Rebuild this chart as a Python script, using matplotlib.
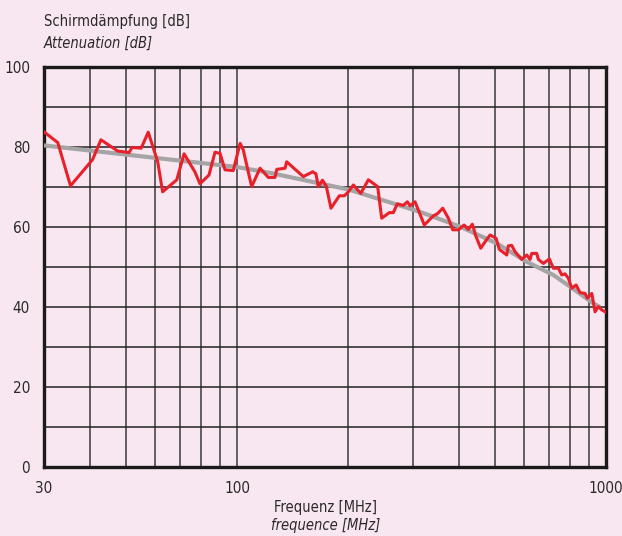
import numpy as np
import matplotlib
matplotlib.use("Agg")
import matplotlib.pyplot as plt
from matplotlib.ticker import FixedLocator, FixedFormatter, NullFormatter

# measured attenuation (red)
freq_meas = [30, 32.7, 35.4, 40.6, 42.8, 47.5, 51.0, 52.0, 55.0, 57.5,
             61.0, 62.9, 68.7, 71.9, 76.9, 79.4, 84.0, 87.2, 90.0, 92.8,
             97.7, 102, 104, 109.6, 115.5, 121.6, 126.8, 128.2, 135, 136.4,
             151.3, 160.4, 163.7, 166.1, 170.5, 174.6, 179.8, 189.4, 195.4, 200.4,
             206.7, 216.5, 227, 240.6, 246.7, 258.8, 265.3, 272, 282.4, 289.5,
             294.4, 303.7, 321.9, 340.5, 349.1, 361.1, 374.0, 384.3, 398.1, 412.5,
             423.6, 434.4, 443.6, 457.7, 470.2, 485.1, 503.5, 514, 538.3, 543.7,
             555.3, 567, 591.2, 609.9, 622.5, 629.1, 649.1, 655.6, 676.5, 702.2,
             720, 742.8, 758.6, 774.3, 790.5, 807.5, 829.5, 850.6, 877.5, 890.3,
             915, 934, 953.2, 973.6, 994]
db_meas = [83.8, 81.1, 70.3, 76.8, 81.8, 79.0, 78.6, 79.9, 79.7, 83.7,
           76.3, 68.8, 71.8, 78.3, 73.8, 70.8, 73.0, 78.7, 78.4, 74.3,
           74.1, 80.9, 79.3, 70.1, 74.7, 72.4, 72.4, 74.4, 74.7, 76.3,
           72.6, 73.8, 73.3, 70.1, 71.7, 70.2, 64.7, 67.8, 67.8, 68.8,
           70.5, 68.4, 71.8, 70.1, 62.2, 63.6, 63.6, 65.8, 65.4, 66.3,
           65.3, 66.3, 60.5, 62.8, 63.3, 64.7, 62.2, 59.3, 59.3, 60.5,
           59.4, 60.7, 57.8, 54.7, 56.3, 58.0, 57.2, 54.4, 53.0, 55.3,
           55.4, 53.8, 51.9, 53.0, 51.9, 53.4, 53.4, 51.9, 50.9, 52.0,
           49.7, 49.7, 48.0, 48.3, 47.2, 44.7, 45.5, 43.6, 43.4, 42.2,
           43.4, 38.8, 40.1, 39.3, 38.8]

# smoothed trend (grey)
freq_trend = [30, 100, 125, 202, 313, 402, 506, 610, 720, 799, 924, 963]
db_trend = [80.4, 75.0, 73.4, 69.3, 63.8, 60.1, 55.9, 51.3, 48.0, 45.1, 40.9, 40.0]

x_ticks = [30, 100, 1000]
x_minor = [40, 50, 60, 70, 80, 90, 200, 300, 400, 500, 600, 700, 800, 900]
y_ticks = [0, 20, 40, 60, 80, 100]

bg = "#f8e6f0"
txt = "#2a2a2a"
plt.rcParams["font.family"] = ["DejaVu Sans"]
plt.rcParams["font.stretch"] = "condensed"
fs = 10.5

fig = plt.figure(figsize=(6.22, 5.36), dpi=100, facecolor=bg)
ax = fig.add_axes([0.0707, 0.1287, 0.9036, 0.7463], facecolor=bg)

ax.set_xscale("log")
ax.set_xlim(30, 1000)
ax.set_ylim(0, 100)

ax.plot(freq_trend, db_trend, color="#a5a5a5", lw=3.0, solid_capstyle="butt", zorder=3)
ax.plot(freq_meas, db_meas, color="#e8202a", lw=2.2, zorder=4)

ax.xaxis.set_major_locator(FixedLocator(x_ticks))
ax.xaxis.set_minor_locator(FixedLocator(x_minor))
ax.xaxis.set_major_formatter(FixedFormatter([str(v) for v in x_ticks]))
ax.xaxis.set_minor_formatter(NullFormatter())
ax.yaxis.set_major_locator(FixedLocator(y_ticks))
ax.yaxis.set_minor_locator(FixedLocator([10, 30, 50, 70, 90]))

ax.grid(which="both", axis="y", color="#222222", lw=1.1, zorder=1)
ax.grid(which="both", axis="x", color="#3a3a3a", lw=1.1, zorder=1)
ax.set_axisbelow(True)
ax.tick_params(which="both", length=0, labelsize=fs + 0.5, colors=txt)
ax.tick_params(axis="x", pad=10)
ax.tick_params(axis="y", pad=10)

for s in ax.spines.values():
    s.set_linewidth(2.4)
    s.set_color("#1a1a1a")

fig.text(0.0707, 0.959, "Schirmdämpfung [dB]", fontsize=fs, color=txt, va="center")
fig.text(0.0707, 0.920, "Attenuation [dB]", fontsize=fs, color=txt, va="center", style="italic")
fig.text(0.523, 0.054, "Frequenz [MHz]", fontsize=fs, color=txt, ha="center", va="center")
fig.text(0.523, 0.020, "frequence [MHz]", fontsize=fs, color=txt, ha="center", va="center", style="italic")

fig.savefig("out.png", dpi=100, facecolor=bg)
